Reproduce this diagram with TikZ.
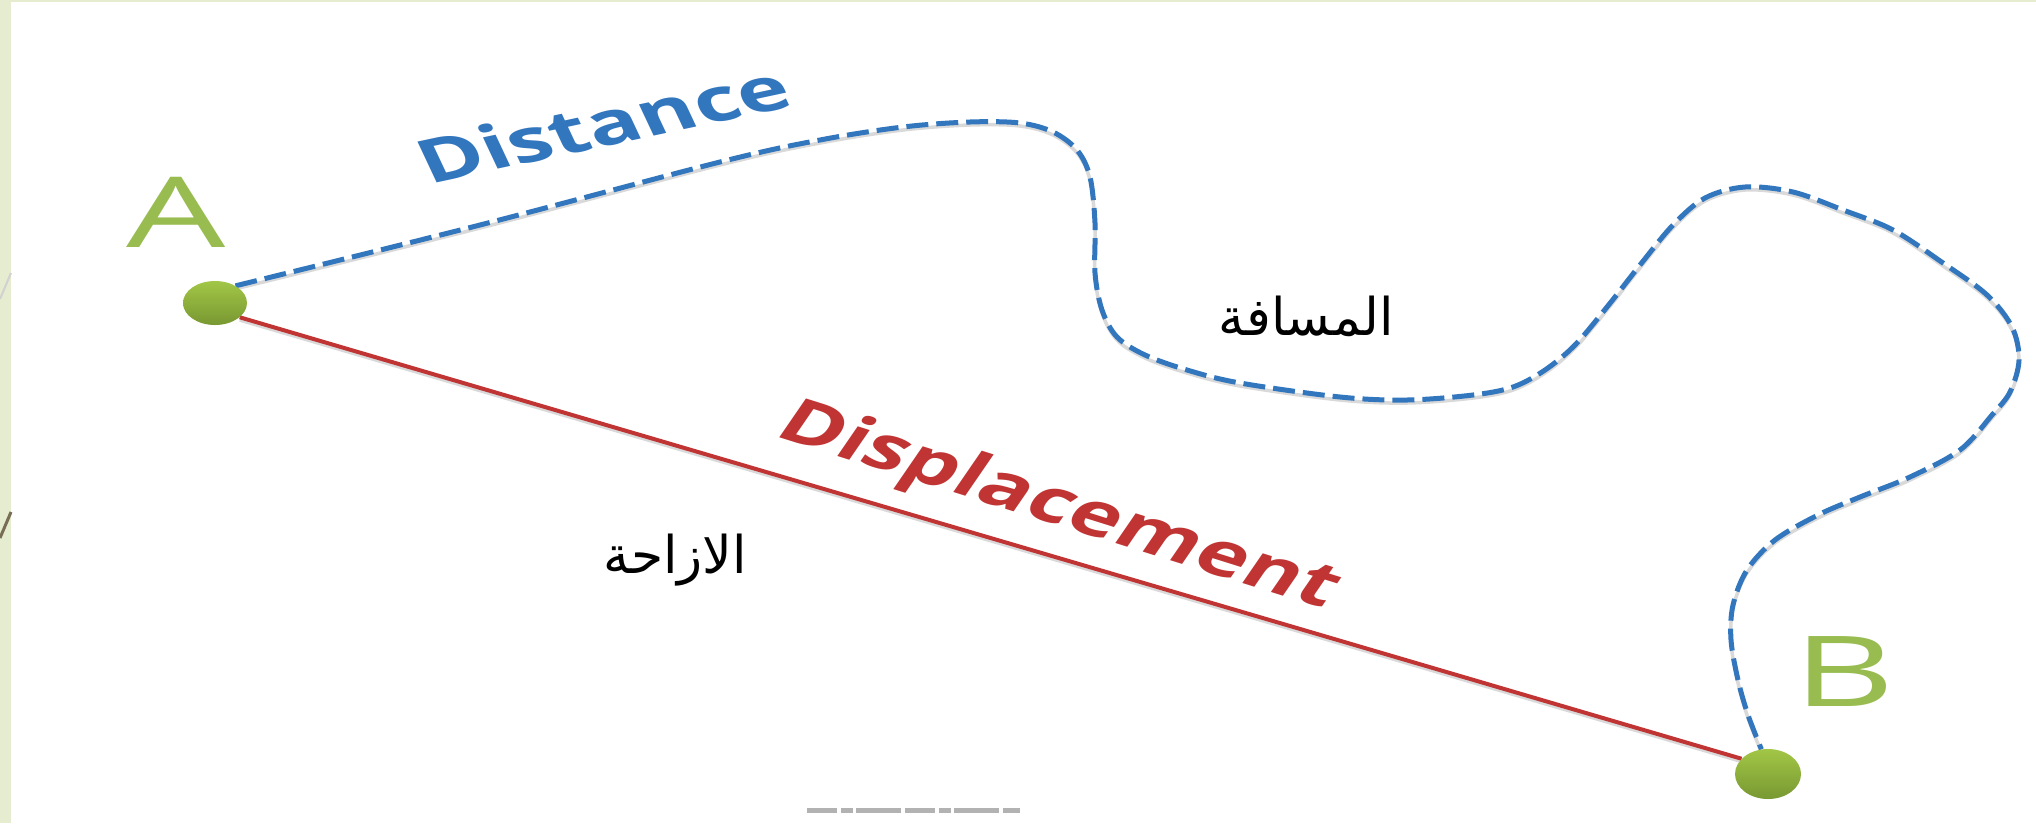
\documentclass[tikz,border=0pt]{standalone}
\usepackage{fontspec}
\usetikzlibrary{shapes.geometric}
\newfontfamily\latinfont{Open Sans}
\newfontfamily\arabicfont[Script=Arabic]{DejaVu Sans}
\TeXXeTstate=1
\definecolor{lgreen}{RGB}{152,188,80}
\definecolor{dotlight}{RGB}{162,198,70}
\definecolor{dotdark}{RGB}{120,152,50}
\definecolor{dblue}{RGB}{50,118,190}
\definecolor{dred}{RGB}{192,52,52}
\definecolor{stripgreen}{RGB}{230,236,208}
\definecolor{stripbrown}{RGB}{120,110,85}
\pgfdeclarelayer{bg}
\pgfsetlayers{bg,main}
\begin{document}
\begin{tikzpicture}[x=1pt,y=-1pt,
  ptdot/.style={ellipse, inner sep=0pt, top color=dotlight, bottom color=dotdark, draw=none},
  letter/.style={text=lgreen, inner sep=0pt, anchor=base, xscale=1.6, font=\latinfont\fontsize{98}{98}\selectfont},
  distpath/.style={draw=dblue, line width=5pt, dash pattern=on 22pt off 8pt, line join=round,
    preaction={draw=black!15, line width=3.5pt, transform canvas={yshift=-3pt}}},
  disppath/.style={draw=dred, line width=4pt,
    preaction={draw=black!15, line width=3pt, transform canvas={yshift=-3pt}}},
  wordlbl/.style={inner sep=0pt, anchor=base, xscale=1.48, font=\latinfont\bfseries\fontsize{60}{60}\selectfont},
  arlbl/.style={inner sep=0pt, anchor=base, text=black, font=\arabicfont\fontsize{52}{52}\selectfont}
]
\useasboundingbox (0,0) rectangle (2036,823);

% end points
\node[ptdot, minimum width=64pt, minimum height=44pt] (Adot) at (215,303) {};
\node[ptdot, minimum width=66pt, minimum height=50pt] (Bdot) at (1768,774) {};

% letters
\node[letter] (Alabel) at (176,247) {A};
\node[letter] (Blabel) at (1844,706) {B};

\begin{pgfonlayer}{bg}
% background and slide edge
\fill[white] (0,0) rectangle (2036,823);
\fill[stripgreen] (0,0) rectangle (11,823);
\fill[stripgreen] (0,0) rectangle (2036,2);
\draw[black!18, line width=2pt] (11,273) -- (0,299);
\draw[stripbrown, line width=3pt] (11,512) -- (0,538);
% connectors
\draw[disppath] (Adot.-30) -- (Bdot.150);
\draw[distpath] plot[smooth, tension=0.55] coordinates {
  (Adot.40) (480,225) (720,162) (820,140) (903,127) (970,122) (1020,123)
  (1053,132) (1077,150) (1090,177) (1095,223) (1095,273) (1102,310)
  (1117,337) (1145,355) (1187,370) (1240,383) (1340,397) (1407,400)
  (1473,395) (1513,387) (1545,370) (1575,345) (1607,307) (1640,265)
  (1673,225) (1705,198) (1745,187) (1793,192) (1843,210) (1893,230)
  (1943,263) (1987,295) (2012,327) (2019,360) (2010,392) (1992,415)
  (1960,450) (1910,477) (1860,497) (1818,515) (1775,540) (1747,570)
  (1733,605) (1731,640) (1738,680) (1748,715) (Bdot.105)};
% faint credit line at the bottom
\draw[black!30, line width=5pt, dash pattern=on 30pt off 4pt on 12pt off 3pt on 45pt off 4pt] (807,810) -- (1020,810);
\end{pgfonlayer}

% labels
\node[wordlbl, text=dblue, rotate=17.6] (distlbl) at (613,145) {Distance};
\node[wordlbl, text=dred, rotate=-24.9] (displbl) at (1048,522) {Displacement};
\node[arlbl] (distar) at (1306,335) {\beginR المسافة\endR};
\node[arlbl] (dispar) at (675,573) {\beginR الازاحة\endR};
\end{tikzpicture}
\end{document}
